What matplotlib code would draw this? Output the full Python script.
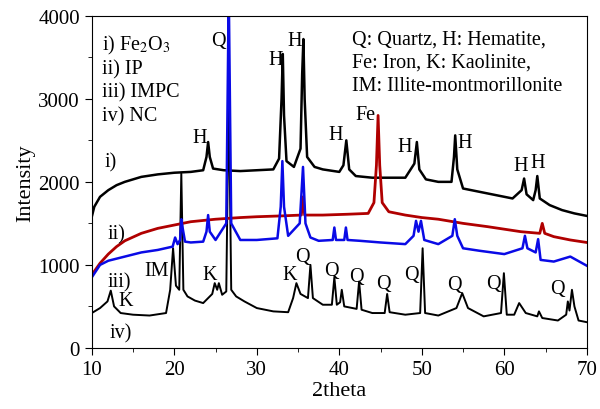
import numpy as np
import matplotlib
matplotlib.use('Agg')
import matplotlib.pyplot as plt
from matplotlib.ticker import MultipleLocator

plt.rcParams['font.family'] = ['Liberation Serif', 'DejaVu Serif']
plt.rcParams['mathtext.fontset'] = 'stix'

# i) Fe2O3
x_fe2o3 = [10, 10.3, 11, 12, 13, 14, 15, 16, 18, 20, 22, 23.5, 23.9, 24.1, 24.3, 24.7,
           26, 28, 30, 32, 32.7, 33.0, 33.15, 33.3, 33.6, 34.5, 35.3, 35.5, 35.65, 35.8,
           36.1, 37, 38, 40, 40.5, 40.85, 41.2, 42, 44, 46, 48, 49.1, 49.4, 49.7, 50.5,
           52, 53.6, 53.9, 54.05, 54.3, 55, 57, 59, 61, 62.1, 62.4, 62.7, 63.5, 63.8,
           64.0, 64.3, 65.5, 67, 68.5, 70]
y_fe2o3 = [1580, 1700, 1820, 1900, 1960, 2000, 2030, 2060, 2090, 2110, 2120, 2140, 2300,
           2480, 2300, 2160, 2140, 2130, 2140, 2150, 2280, 3000, 3540, 2800, 2250, 2180,
           2400, 3300, 3720, 3000, 2300, 2180, 2150, 2120, 2200, 2500, 2150, 2070, 2050,
           2050, 2050, 2220, 2480, 2150, 2030, 2000, 2000, 2300, 2560, 2150, 1920, 1880,
           1840, 1800, 1900, 2040, 1850, 1780, 1900, 2070, 1800, 1720, 1660, 1620, 1590]

# ii) IP
x_ip = [10, 11, 12, 13, 14, 16, 18, 20, 22, 25, 28, 30, 33, 35.4, 35.6, 35.8, 38, 41,
        43.5, 44.2, 44.5, 44.7, 44.9, 45.2, 46, 48, 50, 52, 55, 58, 60, 62, 64.3, 64.6,
        64.9, 66, 68, 70]
y_ip = [880, 1020, 1130, 1220, 1290, 1380, 1440, 1480, 1520, 1550, 1570, 1580, 1590, 1600,
        1820, 1600, 1600, 1610, 1620, 1750, 2200, 2800, 2200, 1750, 1640, 1600, 1570, 1550,
        1500, 1460, 1430, 1400, 1380, 1500, 1380, 1340, 1300, 1270]

# iii) IMPC
x_impc = [10, 11, 12, 14, 16, 18, 19.8, 20.1, 20.4, 20.7, 20.85, 21.0, 21.3, 22, 23.5, 23.9,
          24.1, 24.3, 25, 26.3, 26.6, 26.9, 28, 30, 32.5, 32.9, 33.1, 33.3, 33.8, 35.2, 35.6,
          35.9, 36.5, 37.5, 39.2, 39.4, 39.6, 40.6, 40.8, 41, 42.5, 45, 48, 49.0, 49.3, 49.6,
          49.9, 50.3, 52, 53.7, 54.0, 54.3, 55, 57, 60, 62.2, 62.5, 62.8, 63.8, 64.1, 64.4,
          66, 68, 70]
y_impc = [850, 1000, 1050, 1100, 1150, 1180, 1220, 1330, 1250, 1300, 1550, 1450, 1280, 1270,
          1280, 1400, 1600, 1400, 1300, 1500, 4300, 1500, 1300, 1300, 1320, 1700, 2250, 1700,
          1350, 1500, 2180, 1500, 1330, 1290, 1300, 1450, 1300, 1300, 1450, 1300, 1290, 1270,
          1250, 1350, 1530, 1400, 1530, 1300, 1250, 1350, 1550, 1350, 1200, 1170, 1130, 1200,
          1350, 1200, 1150, 1310, 1060, 1040, 1100, 990]

# iv) NC
x_nc = [10, 11, 11.9, 12.3, 12.7, 13.5, 15, 17, 19.0, 19.5, 19.85, 20.2, 20.6, 20.85, 21.1,
        21.6, 22.5, 23.5, 24.6, 24.9, 25.2, 25.4, 25.8, 26.3, 26.6, 26.9, 27.5, 28.5, 30, 32,
        33.8, 34.4, 34.8, 35.3, 36.2, 36.5, 36.8, 38, 39.1, 39.4, 39.7, 40.1, 40.3, 40.6,
        42.1, 42.4, 42.7, 44, 45.5, 45.8, 46.1, 48, 49.8, 50.1, 50.4, 52, 54.2, 54.9, 55.6,
        57.5, 59.6, 59.95, 60.3, 61.2, 61.8, 62.6, 64, 64.2, 64.6, 66.5, 67.5, 67.7, 67.9,
        68.2, 68.5, 69, 70]
y_nc = [420, 480, 560, 690, 500, 420, 400, 390, 420, 700, 1200, 750, 700, 2100, 700, 620,
        570, 540, 650, 780, 700, 780, 640, 680, 3100, 700, 620, 560, 480, 440, 430, 600, 780,
        650, 600, 1000, 600, 520, 520, 850, 520, 550, 700, 500, 470, 800, 460, 420, 420, 650,
        430, 400, 420, 1200, 420, 390, 480, 660, 480, 380, 420, 900, 400, 400, 540, 420, 380,
        440, 360, 330, 400, 560, 450, 700, 500, 330, 310]

# phase labels: (text, 2theta, intensity)
peak_labels = [('Q', 25.3, 3700), ('H', 32.3, 3470), ('H', 34.6, 3700), ('H', 23.1, 2540),
               ('H', 39.6, 2570), ('Fe', 43.2, 2810), ('H', 47.9, 2420), ('H', 55.2, 2480),
               ('H', 62.0, 2200), ('H', 64.1, 2230), ('K', 14.1, 570), ('IM', 17.9, 930),
               ('K', 24.3, 880), ('K', 34.0, 880), ('Q', 35.5, 1100), ('Q', 39.1, 930),
               ('Q', 42.1, 860), ('Q', 45.4, 770), ('Q', 48.8, 890), ('Q', 53.9, 760),
               ('Q', 58.7, 770), ('Q', 66.5, 710)]
curve_labels = [('i)', 11.6, 2240), ('ii)', 11.9, 1370), ('iii)', 11.9, 800), ('iv)', 12.2, 180)]
sample_names = [r'i) Fe$_2$O$_3$', 'ii) IP', 'iii) IMPC', 'iv) NC']
phase_key = ['Q: Quartz, H: Hematite,', 'Fe: Iron, K: Kaolinite,', 'IM: Illite-montmorillonite']

fig = plt.figure(figsize=(6, 4.1), dpi=100)
ax = fig.add_axes([0.153, 0.149, 0.825, 0.81])

ax.plot(x_fe2o3, y_fe2o3, color='black', lw=1.8)
ax.plot(x_nc, y_nc, color='black', lw=1.4)
ax.plot(x_ip, y_ip, color='#b00000', lw=2.0)
ax.plot(x_impc, y_impc, color='#0a0ae6', lw=1.8)

fs = 14.5
for t, x, y in peak_labels:
    ax.text(x, y, t, fontsize=fs, ha='center', va='center')
for t, x, y in curve_labels:
    ax.text(x, y, t, fontsize=fs, ha='left', va='center')
for i, t in enumerate(sample_names):
    ax.text(11.2, 3650 - i * 285, t, fontsize=fs, ha='left', va='center')
for i, t in enumerate(phase_key):
    ax.text(41.6, 3720 - i * 280, t, fontsize=fs, ha='left', va='center')

ax.set_xlim(10, 70)
ax.set_ylim(0, 4000)
ax.xaxis.set_major_locator(MultipleLocator(10))
ax.xaxis.set_minor_locator(MultipleLocator(5))
ax.yaxis.set_major_locator(MultipleLocator(1000))
ax.yaxis.set_minor_locator(MultipleLocator(500))
ax.tick_params(which='major', direction='out', length=5, labelsize=15)
ax.tick_params(which='minor', direction='out', length=3)
ax.set_xlabel('2theta', fontsize=16, labelpad=2)
ax.set_ylabel('Intensity', fontsize=16, labelpad=2)

plt.savefig('out.png', dpi=100)
